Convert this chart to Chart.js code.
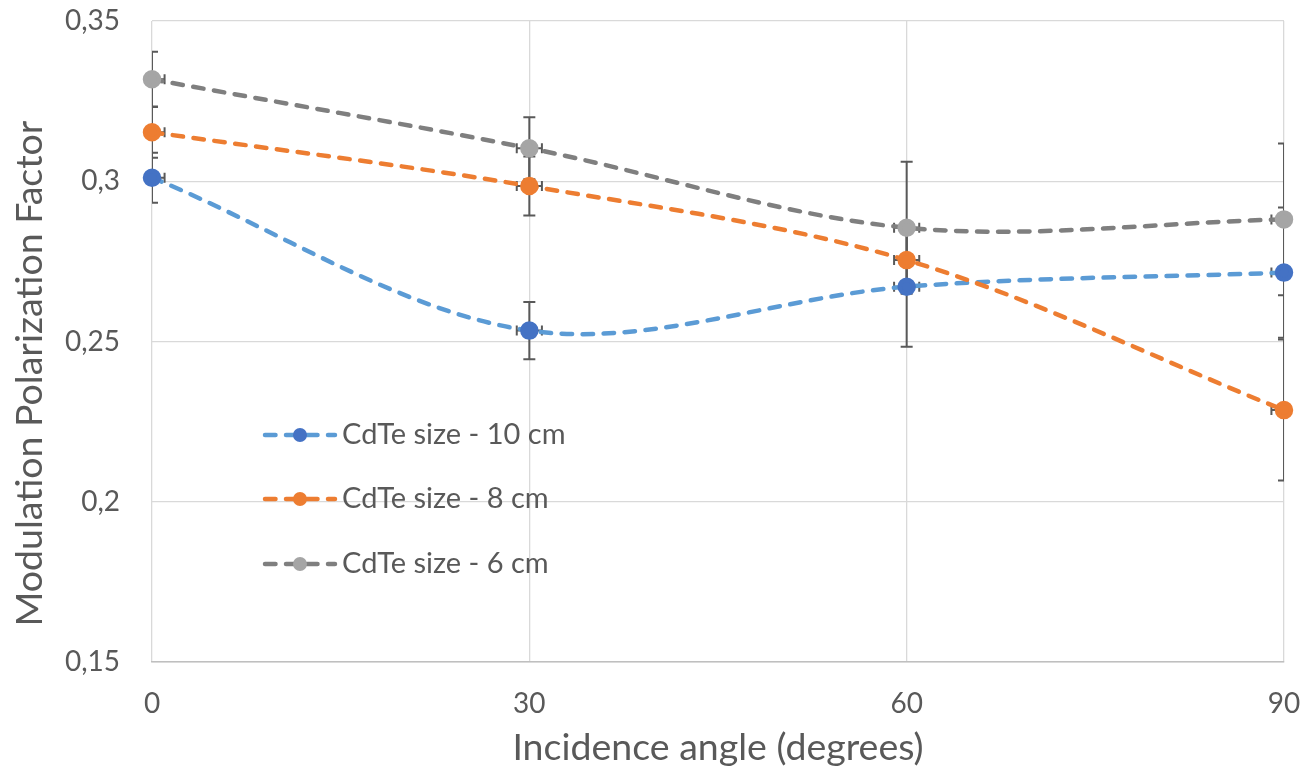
<!DOCTYPE html>
<html>
<head>
<meta charset="utf-8">
<script src="https://cdn.jsdelivr.net/npm/chart.js@4.4.1/dist/chart.umd.min.js"></script>
<style>
html,body{margin:0;padding:0;background:#fff;}
#wrap{width:1305px;height:775px;position:relative;}
</style>
</head>
<body>
<div id="wrap"><canvas id="c" width="1305" height="775"></canvas></div>
<script>
// ---- data ----
const angles = [0, 30, 60, 90];
const cdte10 = [0.3011, 0.2534, 0.2671, 0.2715];
const cdte8  = [0.3153, 0.2985, 0.2754, 0.2286];
const cdte6  = [0.3318, 0.3103, 0.2855, 0.2881];
const err10 = [0.0078, 0.0089, 0.0187, 0.0203];
const err8  = [0.0080, 0.0092, 0.0092, 0.0220];
const err6  = [0.0086, 0.0097, 0.0206, 0.0237];
const angleErr = [1, 1, 1, 1];
const seriesNames = ['CdTe size - 10 cm', 'CdTe size - 8 cm', 'CdTe size - 6 cm'];
const xTickValues = [0, 30, 60, 90];
const yTickValues = [0.15, 0.2, 0.25, 0.3, 0.35];
const yTickLabels = ['0,15', '0,2', '0,25', '0,3', '0,35'];
const xTitle = 'Incidence angle (degrees)';
const yTitle = 'Modulation Polarization Factor';

const FONT = 'Lato, "Open Sans", sans-serif';
const TXT = '#595959';

const styles = [
  {line: '#5B9BD5', marker: '#4472C4'},
  {line: '#ED7D31', marker: '#ED7D31'},
  {line: '#7F7F7F', marker: '#A5A5A5'}
];
const seriesVals = [cdte10, cdte8, cdte6];
const seriesErr = [err10, err8, err6];

const datasets = seriesVals.map((vals, k) => ({
  label: seriesNames[k],
  data: angles.map((a, i) => ({x: a, y: vals[i]})),
  borderColor: styles[k].line,
  backgroundColor: styles[k].marker,
  pointBackgroundColor: styles[k].marker,
  pointBorderColor: styles[k].marker,
  pointRadius: 7,
  pointHoverRadius: 7,
  borderWidth: 4.5,
  borderDash: [10.5, 10.5],
  borderCapStyle: 'round',
  tension: 0.33,
  clip: false,
  order: 3 - k
}));

const errPlugin = {
  id: 'errbars',
  beforeDatasetsDraw(chart) {
    const {ctx, chartArea: a, scales: {x, y}} = chart;
    ctx.save();
    ctx.beginPath();
    ctx.rect(a.left, a.top - 2, a.right - a.left, a.bottom - a.top + 4);
    ctx.clip();
    ctx.strokeStyle = '#595959';
    ctx.lineWidth = 2;
    seriesVals.forEach((vals, k) => {
      const errs = seriesErr[k];
      angles.forEach((ang, i) => {
        const px = x.getPixelForValue(ang);
        const py = y.getPixelForValue(vals[i]);
        const yt = y.getPixelForValue(vals[i] + errs[i]);
        const yb = y.getPixelForValue(vals[i] - errs[i]);
        ctx.beginPath();
        ctx.moveTo(px, yt); ctx.lineTo(px, yb);
        ctx.moveTo(px - 6, yt); ctx.lineTo(px + 6, yt);
        ctx.moveTo(px - 6, yb); ctx.lineTo(px + 6, yb);
        const xl = x.getPixelForValue(ang - angleErr[i]);
        const xr = x.getPixelForValue(ang + angleErr[i]);
        ctx.moveTo(xl, py); ctx.lineTo(xr, py);
        ctx.moveTo(xl, py - 5); ctx.lineTo(xl, py + 5);
        ctx.moveTo(xr, py - 5); ctx.lineTo(xr, py + 5);
        ctx.stroke();
      });
    });
    ctx.restore();
  }
};

const legendPlugin = {
  id: 'inlegend',
  afterDraw(chart) {
    const {ctx, chartArea: a} = chart;
    // y axis title (offset below chart-area centre, as in the original)
    ctx.save();
    ctx.translate(29.5, 373.5);
    ctx.rotate(-Math.PI / 2);
    ctx.fillStyle = TXT;
    ctx.font = '37.5px ' + FONT;
    ctx.textAlign = 'center';
    ctx.textBaseline = 'middle';
    ctx.fillText(yTitle, 0, 0);
    ctx.restore();

    const x0 = a.left + 113, x1 = a.left + 183, mx = a.left + 148, tx = a.left + 190;
    const rows = [a.top + 414, a.top + 478, a.top + 543];
    ctx.save();
    rows.forEach((ry, k) => {
      ctx.strokeStyle = styles[k].line;
      ctx.lineWidth = 4.5;
      ctx.lineCap = 'round';
      ctx.setLineDash([10.5, 10.5]);
      ctx.beginPath(); ctx.moveTo(x0, ry); ctx.lineTo(x1, ry); ctx.stroke();
      ctx.setLineDash([]);
      ctx.fillStyle = styles[k].marker;
      ctx.beginPath(); ctx.arc(mx, ry, 7, 0, Math.PI * 2); ctx.fill();
      ctx.fillStyle = TXT;
      ctx.font = '29px ' + FONT;
      ctx.textBaseline = 'middle';
      ctx.textAlign = 'left';
      ctx.fillText(seriesNames[k], tx, ry);
    });
    ctx.restore();
  }
};

new Chart(document.getElementById('c'), {
  type: 'line',
  data: {datasets},
  plugins: [errPlugin, legendPlugin],
  options: {
    responsive: false,
    animation: false,
    events: [],
    layout: {padding: 0, autoPadding: false},
    plugins: {legend: {display: false}, tooltip: {enabled: false}},
    scales: {
      x: {
        type: 'linear',
        min: 0, max: 90,
        afterBuildTicks: s => { s.ticks = xTickValues.map(v => ({value: v})); },
        afterFit: s => { s.height = 113; s.paddingLeft = 0; s.paddingRight = 21; },
        ticks: {color: TXT, font: {family: FONT, size: 28}, padding: 25, maxRotation: 0,
          callback: v => String(v)},
        grid: {color: '#D9D9D9', lineWidth: 1.3, drawTicks: false},
        border: {color: '#BFBFBF', width: 1.5},
        title: {display: true, text: xTitle, color: TXT, font: {family: FONT, size: 37.5, lineHeight: 1.2}, padding: {top: 0, bottom: 5}}
      },
      y: {
        min: 0.15, max: 0.35,
        afterBuildTicks: s => { s.ticks = yTickValues.map(v => ({value: v})); },
        afterFit: s => { s.width = 152; s.paddingTop = 21; s.paddingBottom = 0; },
        ticks: {color: TXT, font: {family: FONT, size: 28}, padding: 32,
          callback: v => yTickLabels[yTickValues.findIndex(t => Math.abs(t - v) < 1e-9)]},
        grid: {color: '#D9D9D9', lineWidth: 1.3, drawTicks: false},
        border: {display: false},
        title: {display: false, text: yTitle}
      }
    }
  }
});
</script>
</body>
</html>
